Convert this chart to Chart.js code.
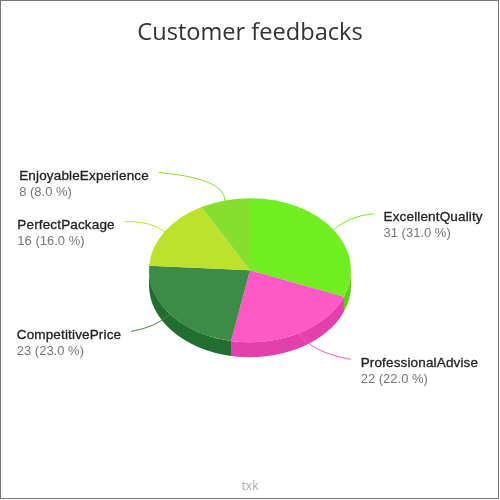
<!DOCTYPE html>
<html>
<head>
<meta charset="utf-8">
<style>
  body { margin: 0; background: #fff; }
  #chart { position: absolute; left: 0; top: 0; }
  #frame { position: absolute; left: 0; top: 0; width: 497px; height: 497px; border: 1px solid #777; pointer-events: none; }
</style>
</head>
<body>
<canvas id="chart" width="500" height="500"></canvas>
<div id="frame"></div>
<script src="https://cdn.jsdelivr.net/npm/chart.js@4"></script>
<script>
const categories = ['ExcellentQuality', 'ProfessionalAdvise', 'CompetitivePrice', 'PerfectPackage', 'EnjoyableExperience'];
const values = [31, 22, 23, 16, 8];
const topColors = ['#70ee1f', '#ff59c5', '#3e8a48', '#bde22d', '#86df2f'];
const wallColors = ['#5fcf12', '#e33fad', '#216f30', '#a4c720', '#72c420'];

// leader line offsets from the slice's rim point: end of line and curve control
const leaderEnds = [[40, -16], [52, 26], [-39, 17], [-40, -10], [-66, -28]];
const leaderBends = [[16, -14], [13, 19], [-15, 13], [-15, -11], [0, -22]];

const squash = 0.713;
const depth = 15;
const total = values.reduce((a, b) => a + b, 0);

// Flatten the pie and add the side wall under it
const tiltPlugin = {
  id: 'tilt',
  beforeDatasetsDraw(chart) {
    const ctx = chart.ctx;
    const arcs = chart.getDatasetMeta(0).data;
    arcs.forEach((arc, i) => {
      const a = Math.max(arc.startAngle, 0);
      const b = Math.min(arc.endAngle, Math.PI);
      if (b <= a) return;
      const ry = arc.outerRadius * squash;
      ctx.beginPath();
      ctx.ellipse(arc.x, arc.y, arc.outerRadius, ry, 0, a, b);
      ctx.ellipse(arc.x, arc.y + depth, arc.outerRadius, ry, 0, b, a, true);
      ctx.closePath();
      ctx.fillStyle = wallColors[i];
      ctx.fill();
    });
    ctx.save();
    const cy = arcs[0].y;
    ctx.translate(0, cy);
    ctx.scale(1, squash);
    ctx.translate(0, -cy);
  },
  afterDatasetsDraw(chart) {
    const ctx = chart.ctx;
    ctx.restore();
    const arcs = chart.getDatasetMeta(0).data;
    ctx.save();
    arcs.forEach((arc, i) => {
      const mid = (arc.startAngle + arc.endAngle) / 2;
      const x = arc.x + Math.cos(mid) * arc.outerRadius;
      const y = arc.y + Math.sin(mid) * arc.outerRadius * squash;
      const ex = x + leaderEnds[i][0];
      const ey = y + leaderEnds[i][1];
      ctx.beginPath();
      ctx.moveTo(x, y);
      ctx.quadraticCurveTo(x + leaderBends[i][0], y + leaderBends[i][1], ex, ey);
      ctx.strokeStyle = topColors[i];
      ctx.lineWidth = 1;
      ctx.stroke();

      // name and value share a left edge, 10px past the line end
      ctx.textBaseline = 'middle';
      ctx.textAlign = 'left';
      ctx.letterSpacing = '0.15px';
      ctx.font = '13.5px "Liberation Sans"';
      const nameWidth = ctx.measureText(categories[i]).width;
      const tx = ex > arc.x ? ex + 10 : ex - 10 - nameWidth;
      ctx.fillStyle = '#222';
      ctx.strokeStyle = '#222';
      ctx.lineWidth = 0.3;
      ctx.fillText(categories[i], tx, ey + 4);
      ctx.strokeText(categories[i], tx, ey + 4);
      ctx.letterSpacing = '0px';
      ctx.font = '13px "Liberation Sans"';
      ctx.fillStyle = '#777';
      ctx.fillText(values[i] + ' (' + (values[i] / total * 100).toFixed(1) + ' %)', tx, ey + 20);
    });
    ctx.restore();
  }
};

new Chart(document.getElementById('chart'), {
  type: 'pie',
  data: {
    labels: categories,
    datasets: [{
      data: values,
      backgroundColor: topColors,
      borderWidth: 0,
      radius: 101
    }]
  },
  options: {
    responsive: false,
    animation: false,
    plugins: {
      legend: { display: false },
      tooltip: { enabled: false },
      title: {
        display: true,
        text: 'Customer feedbacks',
        color: '#333',
        font: { family: '"Open Sans"', size: 23.6, weight: 'normal' },
        padding: { top: 19, bottom: 121.5 }
      },
      subtitle: {
        display: true,
        position: 'bottom',
        text: 'txk',
        color: '#aaa',
        font: { family: '"Open Sans"', size: 12, weight: 'normal' },
        padding: { top: 108, bottom: 6 }
      }
    }
  },
  plugins: [tiltPlugin]
});
</script>
</body>
</html>
